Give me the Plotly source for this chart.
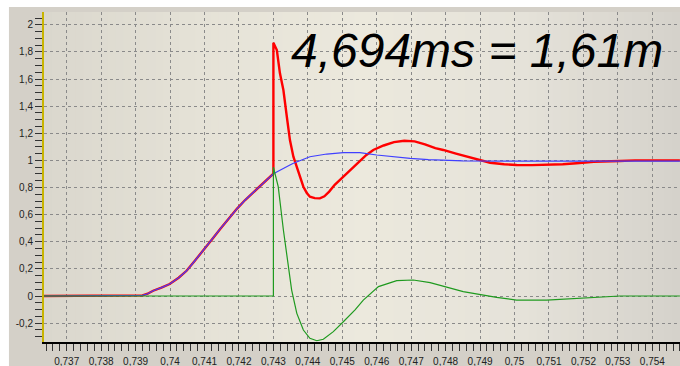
import plotly.graph_objects as go

# --- time axis (s) and signal values --------------------------------------
# shared rising edge (reference and measured signal coincide until the step)
rise_t = [0.73634, 0.73900, 0.73920, 0.73935, 0.73951, 0.73975, 0.73999,
          0.74025, 0.74048, 0.74072, 0.74097, 0.74121, 0.74145, 0.74170,
          0.74194, 0.74218, 0.74242, 0.74261, 0.74281, 0.74300]
rise_v = [0.0, 0.0, 0.005, 0.017, 0.039, 0.062, 0.088,
          0.135, 0.186, 0.26, 0.335, 0.415, 0.493, 0.572,
          0.643, 0.708, 0.765, 0.812, 0.853, 0.902]

# blue: smooth reference after the step
blue_t = [0.74348, 0.74358, 0.74406, 0.74455, 0.74503, 0.74551, 0.74600,
          0.74650, 0.74697, 0.74750, 0.74793, 0.74850, 0.75000, 0.75480]
blue_v = [0.966, 0.979, 1.027, 1.047, 1.057, 1.058, 1.040,
          1.025, 1.015, 1.006, 1.000, 0.997, 0.995, 0.995]

# red: measured signal after the step (spike, undershoot, overshoot)
red_t = [0.74300, 0.74310, 0.74319, 0.74329, 0.74339, 0.74348, 0.74358,
         0.74368, 0.74378, 0.74387, 0.74397, 0.74406, 0.74420, 0.74435,
         0.74448, 0.74462, 0.74478, 0.74503, 0.74530, 0.74551, 0.74570,
         0.74590, 0.74620, 0.74650, 0.74680, 0.74710, 0.74740, 0.74770,
         0.74793, 0.74830, 0.74870, 0.74900, 0.74929, 0.74970, 0.75006,
         0.75050, 0.75103, 0.75140, 0.75180, 0.75230, 0.75306, 0.75350,
         0.75480]
red_v = [1.868, 1.814, 1.642, 1.519, 1.322, 1.150, 1.027,
         0.954, 0.875, 0.806, 0.76, 0.732, 0.722, 0.720,
         0.735, 0.770, 0.82, 0.88, 0.94, 0.99, 1.04,
         1.077, 1.11, 1.135, 1.145, 1.14, 1.118, 1.09,
         1.077, 1.05, 1.025, 1.003, 0.983, 0.972, 0.966,
         0.965, 0.966, 0.972, 0.979, 0.99, 0.996, 1.0,
         1.0]

# green: difference signal
green_t = [0.73634, 0.74300, 0.74300, 0.74314, 0.74329, 0.74339, 0.74353,
           0.74368, 0.74387, 0.74406, 0.74426, 0.74445, 0.74474, 0.74503,
           0.74537, 0.74561, 0.74605, 0.74658, 0.74706, 0.74755, 0.74851,
           0.74948, 0.75006, 0.75093, 0.75190, 0.75306, 0.75480]
green_v = [0.0, 0.0, 0.95, 0.806, 0.487, 0.290, 0.044,
           -0.128, -0.251, -0.312, -0.330, -0.319, -0.263, -0.190,
           -0.103, -0.03, 0.069, 0.113, 0.118, 0.098, 0.032,
           -0.01, -0.03, -0.03, -0.017, 0.0, 0.0]

# tick positions and labels
x_ticks = [0.737, 0.738, 0.739, 0.740, 0.741, 0.742, 0.743, 0.744, 0.745,
           0.746, 0.747, 0.748, 0.749, 0.750, 0.751, 0.752, 0.753, 0.754]
x_labels = ["0,737", "0,738", "0,739", "0,74", "0,741", "0,742", "0,743",
            "0,744", "0,745", "0,746", "0,747", "0,748", "0,749", "0,75",
            "0,751", "0,752", "0,753", "0,754"]
y_ticks = [-0.2, 0.0, 0.2, 0.4, 0.6, 0.8, 1.0, 1.2, 1.4, 1.6, 1.8, 2.0]
y_labels = ["-0,2", "0", "0,2", "0,4", "0,6", "0,8", "1", "1,2", "1,4",
            "1,6", "1,8", "2"]

title_text = "4,694ms = 1,61m"

# --- figure ---------------------------------------------------------------
fig = go.Figure()
fig.add_trace(go.Scatter(x=rise_t + red_t, y=rise_v + red_v, mode="lines",
                         line=dict(color="#ff0000", width=2.4),
                         hoverinfo="skip"))
fig.add_trace(go.Scatter(x=rise_t + blue_t, y=rise_v + blue_v, mode="lines",
                         line=dict(color="#4040ff", width=1.2),
                         hoverinfo="skip"))
fig.add_trace(go.Scatter(x=green_t, y=green_v, mode="lines",
                         line=dict(color="#1f9a1f", width=1.2),
                         hoverinfo="skip"))

# window-grey frame and a soft horizontal gradient inside the plot area
shapes = [dict(type="rect", xref="paper", yref="paper",
               x0=-0.0551, x1=1.02, y0=-0.1, y1=1.0152,
               fillcolor="#d4d0c8", line=dict(width=0), layer="below")]
stops = [(0.0, (218, 215, 205)), (0.25, (229, 226, 215)),
         (0.5, (236, 233, 221)), (0.75, (229, 226, 217)),
         (1.0, (213, 210, 203))]


def grad(p):
    for (p0, c0), (p1, c1) in zip(stops[:-1], stops[1:]):
        if p0 <= p <= p1:
            f = (p - p0) / (p1 - p0)
            return "rgb(%d,%d,%d)" % tuple(round(a + (b - a) * f)
                                           for a, b in zip(c0, c1))
    return "rgb(%d,%d,%d)" % stops[-1][1]


n = 80
for i in range(n):
    x0, x1 = i / n, (i + 1) / n
    shapes.append(dict(type="rect", xref="paper", yref="paper",
                       x0=x0, x1=x1 + 0.002, y0=0, y1=1,
                       fillcolor=grad((x0 + x1) / 2),
                       line=dict(width=0), layer="below"))

tick_font = dict(family="Liberation Sans, Arial, sans-serif", size=10,
                 color="#222222")

fig.update_layout(
    width=680, height=366,
    margin=dict(l=44, r=0, t=12, b=24),
    paper_bgcolor="#ffffff",
    plot_bgcolor="rgba(0,0,0,0)",
    showlegend=False,
    shapes=shapes,
    xaxis=dict(range=[0.736341, 0.754803], tickmode="array",
               tickvals=x_ticks, ticktext=x_labels, tickfont=tick_font,
               ticks="outside", ticklen=7, tickcolor="#333333",
               ticklabelstandoff=2,
               showline=True, linecolor="#000000", linewidth=2,
               showgrid=True, gridcolor="#8a8a8a", gridwidth=1,
               griddash="3px,3px", zeroline=False,
               minor=dict(tickmode="linear", tick0=0.737, dtick=0.0002,
                          ticks="outside", ticklen=7, tickcolor="#333333",
                          showgrid=False)),
    yaxis=dict(range=[-0.3392, 2.0944], tickmode="array",
               tickvals=y_ticks, ticktext=y_labels, tickfont=tick_font,
               ticks="outside", ticklen=7, tickcolor="#333333",
               showline=True, linecolor="#c8b400", linewidth=2,
               showgrid=True, gridcolor="#8a8a8a", gridwidth=1,
               griddash="3px,3px", zeroline=False,
               minor=dict(tickmode="linear", tick0=0, dtick=0.05,
                          ticks="outside", ticklen=7, tickcolor="#333333",
                          showgrid=False)),
    annotations=[dict(text=title_text, xref="paper", yref="paper",
                      x=0.6816, y=0.883, xanchor="center", yanchor="middle",
                      showarrow=False,
                      font=dict(family="Liberation Sans, Arial, sans-serif",
                                size=48, color="#000000", style="italic"))],
)

fig.write_html("out.html")
